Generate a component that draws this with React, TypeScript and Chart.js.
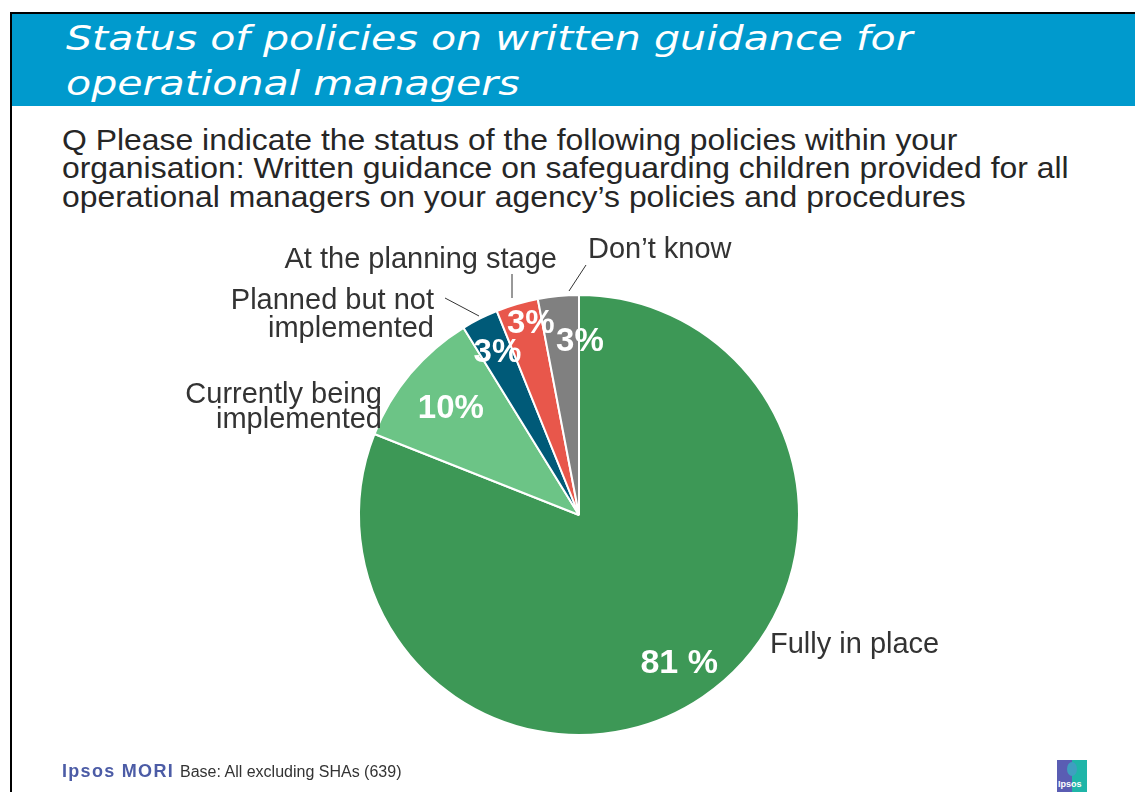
import React, { useEffect, useRef } from "react";
import { Chart, registerables } from "chart.js";

Chart.register(...registerables);

// ---- Data ----
const categories = [
  "Fully in place",
  "Currently being implemented",
  "Planned but not implemented",
  "At the planning stage",
  "Don\u2019t know",
];
const values = [81, 10.2, 2.7, 3.1, 3.0];
const valueLabels = ["81 %", "10%", "3%", "3%", "3%"];
const sliceColors = ["#3D9856", "#6CC486", "#005A78", "#E8574B", "#808080"];
const categoryLabelLines = [
  ["Fully in place"],
  ["Currently being", "implemented"],
  ["Planned but not", "implemented"],
  ["At the planning stage"],
  ["Don\u2019t know"],
];

const titleLines = ["Status of policies on written guidance for", "operational managers"];
const questionLines = [
  "Q Please indicate the status of the following policies within your",
  "organisation: Written guidance on safeguarding children provided for all",
  "operational managers on your agency\u2019s policies and procedures",
];
const baseText = "Base: All excluding SHAs (639)";

// ---- Label placement (relative to pie centre, in px; angle shifts in degrees) ----
const innerPlacement = [
  { da: 0, r: 0.81, size: 34 },
  { da: 0, r: 0.76, size: 33 },
  { da: 0.3, r: 0.83, size: 33 },
  { da: 2.3, r: 0.9, size: 33 },
  { da: 5.7, r: 0.79, size: 33 },
];
const outerPlacement = [
  { align: "left", dx: 191, dy: 138, lh: 27, leader: null },
  { align: "right", dx: -197, dy: -112, lh: 25, leader: null },
  { align: "right", dx: -145, dy: -206, lh: 28, leader: [-134, -217, -100, -199] },
  { align: "right", dx: -22, dy: -247, lh: 27, leader: [-67, -241, -67, -217] },
  { align: "left", dx: 9, dy: -257, lh: 27, leader: [7, -250, -10, -224] },
];

const labelPlugin = {
  id: "sliceLabels",
  afterDraw(chart: any) {
    const ctx = chart.ctx;
    const meta = chart.getDatasetMeta(0);
    ctx.save();
    meta.data.forEach((arc: any, i: number) => {
      const p = arc.getProps(["x", "y", "startAngle", "endAngle", "outerRadius"], true);
      const cx = p.x;
      const cy = p.y;
      // inner value label
      const pl = innerPlacement[i];
      const mid = (p.startAngle + p.endAngle) / 2 + (pl.da * Math.PI) / 180;
      const lx = cx + Math.cos(mid) * p.outerRadius * pl.r;
      const ly = cy + Math.sin(mid) * p.outerRadius * pl.r;
      ctx.font = `bold ${pl.size}px "Liberation Sans", Arial, sans-serif`;
      ctx.fillStyle = "#ffffff";
      ctx.textAlign = "center";
      ctx.textBaseline = "middle";
      ctx.fillText(valueLabels[i], lx, ly + 1);

      // outer category label
      const op = outerPlacement[i];
      ctx.font = `29px "Liberation Sans", Arial, sans-serif`;
      ctx.fillStyle = "#333333";
      ctx.textAlign = op.align as CanvasTextAlign;
      ctx.textBaseline = "alphabetic";
      categoryLabelLines[i].forEach((t, j) => {
        ctx.fillText(t, cx + op.dx, cy + op.dy + j * op.lh);
      });
      if (op.leader) {
        ctx.strokeStyle = "#333333";
        ctx.lineWidth = 1;
        ctx.beginPath();
        ctx.moveTo(cx + op.leader[0], cy + op.leader[1]);
        ctx.lineTo(cx + op.leader[2], cy + op.leader[3]);
        ctx.stroke();
      }
    });
    ctx.restore();
  },
};

function PieChart() {
  const ref = useRef<HTMLCanvasElement | null>(null);
  useEffect(() => {
    if (!ref.current) return;
    const chart = new Chart(ref.current, {
      type: "pie",
      data: {
        labels: categories,
        datasets: [
          {
            data: values,
            backgroundColor: sliceColors,
            borderColor: "#ffffff",
            borderWidth: 2,
          },
        ],
      },
      options: {
        responsive: false,
        animation: false,
        radius: 220,
        layout: { padding: { left: 23, right: 0, top: 238, bottom: 0 } },
        plugins: {
          legend: { display: false },
          tooltip: { enabled: false },
          title: { display: false },
        },
        events: [],
      } as any,
      plugins: [labelPlugin],
    });
    return () => chart.destroy();
  }, []);
  return (
    <canvas
      ref={ref}
      width={1135}
      height={792}
      style={{ position: "absolute", left: 0, top: 0, width: 1135, height: 792 }}
    />
  );
}

export default function App() {
  return (
    <div
      style={{
        position: "absolute",
        left: 0,
        top: 0,
        width: 1135,
        height: 792,
        overflow: "hidden",
        background: "#ffffff",
        fontFamily: '"Liberation Sans", Arial, sans-serif',
      }}
    >
      {/* frame */}
      <div style={{ position: "absolute", left: 10, top: 12, width: 1125, height: 2, background: "#000" }} />
      <div style={{ position: "absolute", left: 10, top: 12, width: 2, height: 780, background: "#000" }} />
      {/* title bar */}
      <div style={{ position: "absolute", left: 12, top: 14, width: 1123, height: 92, background: "#009ACD" }} />
      <div
        style={{
          position: "absolute",
          left: 66,
          top: 16,
          color: "#ffffff",
          fontFamily: '"DejaVu Sans", Verdana, sans-serif',
          fontStyle: "italic",
          fontSize: 34,
          lineHeight: "45px",
          whiteSpace: "nowrap",
          transform: "scaleX(1.21)",
          transformOrigin: "left top",
        }}
      >
        {titleLines.map((t, i) => (
          <div key={i}>{t}</div>
        ))}
      </div>
      {/* question */}
      <div
        style={{
          position: "absolute",
          left: 62,
          top: 126,
          color: "#262626",
          fontSize: 29,
          lineHeight: "28.3px",
          whiteSpace: "nowrap",
          transform: "scaleX(1.1)",
          transformOrigin: "left top",
        }}
      >
        {questionLines.map((t, i) => (
          <div key={i}>{t}</div>
        ))}
      </div>
      <PieChart />
      {/* footer */}
      <div
        style={{
          position: "absolute",
          left: 62,
          top: 761,
          whiteSpace: "nowrap",
          lineHeight: "20px",
        }}
      >
        <span
          style={{
            fontWeight: "bold",
            fontSize: 18,
            color: "#4C5CA6",
            letterSpacing: "1.3px",
          }}
        >
          Ipsos MORI
        </span>
        <span style={{ fontSize: 16, color: "#333333", marginLeft: 6 }}>{baseText}</span>
      </div>
      {/* logo */}
      <div style={{ position: "absolute", left: 1057, top: 760, width: 30, height: 32, overflow: "hidden" }}>
        <div style={{ position: "absolute", left: 0, top: 0, width: 15, height: 32, background: "#5A5DB3" }} />
        <div style={{ position: "absolute", left: 15, top: 0, width: 15, height: 32, background: "#1FB5A8" }} />
        <div
          style={{
            position: "absolute",
            left: 10,
            top: 2,
            width: 10,
            height: 14,
            borderRadius: "50%",
            background: "#3F9FC0",
          }}
        />
        <div
          style={{
            position: "absolute",
            left: 1,
            top: 19,
            fontSize: 9,
            color: "#ffffff",
            fontWeight: "bold",
            lineHeight: "10px",
          }}
        >
          Ipsos
        </div>
      </div>
    </div>
  );
}
